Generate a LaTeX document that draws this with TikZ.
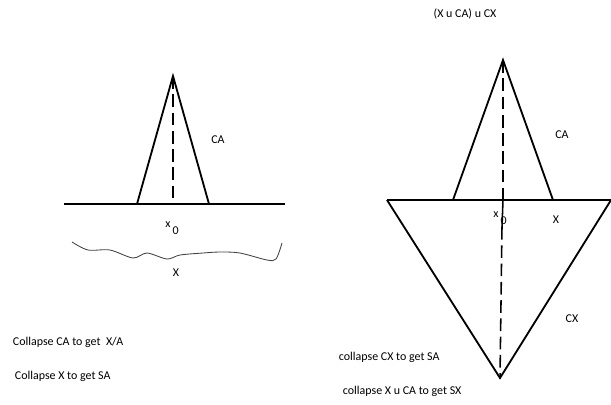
\documentclass[tikz,border=0pt]{standalone}
\usepackage{fontspec}
\setmainfont{Carlito}
\begin{document}
\begin{tikzpicture}[x=0.025cm, y=-0.025cm,
	every path/.style={line width=1.3pt},
	lbl/.style={inner sep=0, font=\fontsize{8.5}{10}\selectfont},
	note/.style={lbl, anchor=west},
	axis/.style={line width=1.1pt, dash pattern=on 9pt off 4pt}]
	\useasboundingbox (0,0) rectangle (611,404);

	% left picture: X with the cone CA on it
	\coordinate (ltop) at (173,76);
	\coordinate (lbl) at (137,204);
	\coordinate (lbr) at (209,204);
	\coordinate (lx0) at (173,204);
	\coordinate (lw) at (64,204);
	\coordinate (le) at (285,204);
	\draw (lw) -- (le);
	\draw (lbl) -- (ltop) -- (lbr);
	\draw[axis] (ltop) -- (lx0);
	\node[lbl] (lca) at (218,140) {CA};
	\node[lbl] (lxo) at (172,228) {x\,\raisebox{-1.3ex}{0}};
	\draw[line width=0.6pt, black!75] plot[smooth] coordinates {(72,242) (88,250) (110,250)
		(133,258) (147,253) (167,259) (180,255) (203,253) (220,252) (240,253) (267,260) (276,259) (282,243)};
	\node[lbl] (lx) at (176,273) {X};
	\node[note] (c1) at (12,342) {Collapse CA to get\ \ X/A};
	\node[note] (c2) at (14,376) {Collapse X to get SA};

	% right picture: (X u CA) u CX
	\node[lbl] (ttl) at (465,14) {(X u CA) u CX};
	\coordinate (rtop) at (503,60);
	\coordinate (rbl) at (453,200);
	\coordinate (rbr) at (553,200);
	\coordinate (rw) at (387,200);
	\coordinate (re) at (611,200);
	\coordinate (rbot) at (500,378);
	\coordinate (rx0) at (503,200);
	\coordinate (rsol) at (502,227);
	\draw (rw) -- (re);
	\draw (rbl) -- (rtop) -- (rbr);
	\draw (rw) -- (rbot) -- (re);
	\draw[axis] (rtop) -- (rx0);
	\draw[line width=1.1pt] (rx0) -- (rsol);
	\draw[axis] (rsol) -- (rbot);
	\node[lbl] (rca) at (562,135) {CA};
	\node[lbl] (rxo) at (500,218) {x\,\raisebox{-1.3ex}{0}};
	\node[lbl] (rx) at (556,220) {X};
	\node[lbl] (rcx) at (572,319) {CX};
	\node[note] (c3) at (338,357) {collapse CX to get SA};
	\node[note] (c4) at (342,391) {collapse X u CA to get SX};
\end{tikzpicture}
\end{document}
